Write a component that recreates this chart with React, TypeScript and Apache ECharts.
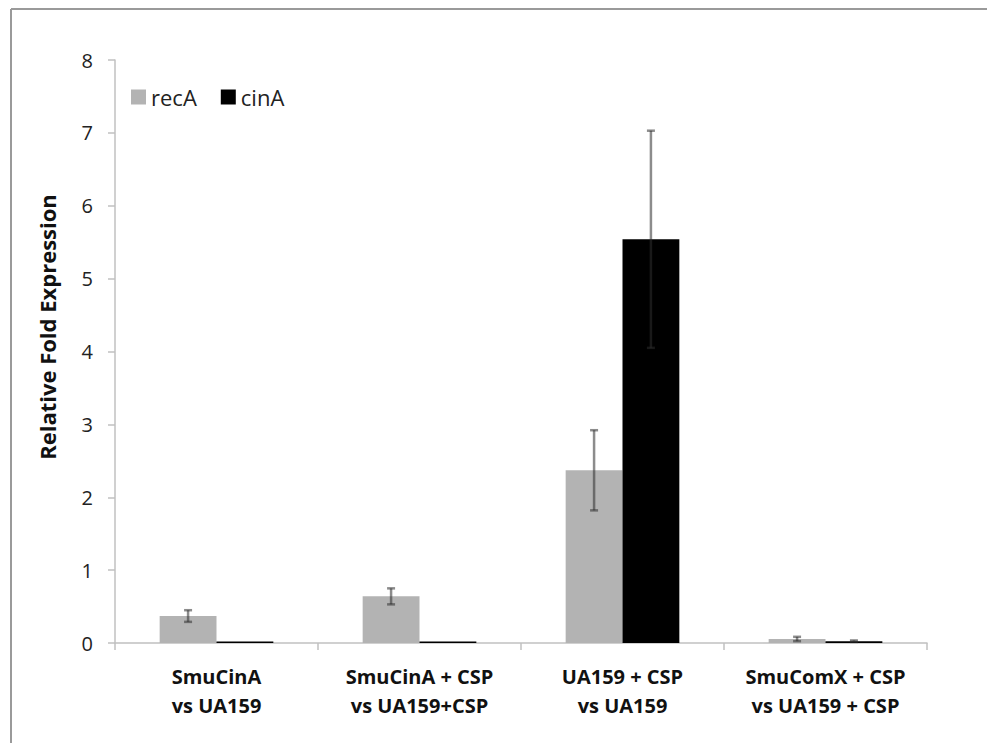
import React, { useEffect, useRef } from "react";
import * as echarts from "echarts";

const categories = [
  "SmuCinA\nvs UA159",
  "SmuCinA + CSP\nvs UA159+CSP",
  "UA159 + CSP\nvs UA159",
  "SmuComX + CSP\nvs UA159 + CSP",
];
const recA = [0.37, 0.64, 2.37, 0.055];
const recAErr = [0.08, 0.11, 0.55, 0.03];
const cinA = [0.02, 0.02, 5.54, 0.025];
const cinAErr = [0, 0, 1.49, 0.01];
const yTicks = [0, 1, 2, 3, 4, 5, 6, 7, 8];

const FONT = "'Open Sans', Lato, sans-serif";

export default function App() {
  const ref = useRef<HTMLDivElement>(null);
  useEffect(() => {
    document.body.style.margin = "0";
    const chart = echarts.init(ref.current!, null, { renderer: "svg" });
    const errData: number[][] = [];
    recA.forEach((v, i) => errData.push([i, v, recAErr[i], -1]));
    cinA.forEach((v, i) => errData.push([i, v, cinAErr[i], 1]));
    chart.setOption({
      animation: false,
      backgroundColor: "#fff",
      textStyle: { fontFamily: FONT },
      grid: { left: 115, right: 60, top: 60, bottom: 100, containLabel: false },
      legend: {
        left: 126,
        top: 81,
        itemWidth: 15,
        itemHeight: 15,
        itemGap: 24,
        icon: "rect",
        textStyle: { fontSize: 22, color: "#222", fontFamily: FONT },
        data: ["recA", "cinA"],
      },
      xAxis: {
        type: "category",
        data: categories,
        axisLine: { lineStyle: { color: "#c0c0c0", width: 1.5 } },
        axisTick: { show: true, length: 7, lineStyle: { color: "#c0c0c0", width: 1.5 } },
        axisLabel: {
          interval: 0,
          hideOverlap: false,
          fontSize: 20,
          fontWeight: "bold",
          color: "#111",
          lineHeight: 29,
          margin: 19,
          fontFamily: FONT,
        },
      },
      yAxis: {
        type: "value",
        min: 0,
        max: 8,
        interval: 1,
        splitLine: { show: false },
        axisLine: { show: true, lineStyle: { color: "#c0c0c0", width: 1.5 } },
        axisTick: { show: true, length: 7, lineStyle: { color: "#c0c0c0", width: 1.5 } },
        axisLabel: {
          fontSize: 20,
          color: "#222",
          margin: 22,
          fontFamily: FONT,
          formatter: (v: number) => (yTicks.includes(v) ? String(v) : ""),
        },
      },
      graphic: [
        { type: "line", shape: { x1: 11, y1: 9, x2: 987, y2: 9 }, style: { stroke: "#9a9a9a", lineWidth: 2 } },
        { type: "line", shape: { x1: 11, y1: 9, x2: 11, y2: 743 }, style: { stroke: "#9a9a9a", lineWidth: 2 } },
        {
          type: "text",
          x: 47,
          y: 327,
          rotation: Math.PI / 2,
          style: {
            text: "Relative Fold Expression",
            fontSize: 22,
            fontWeight: "bold",
            fontFamily: FONT,
            fill: "#111",
            textAlign: "center",
            textVerticalAlign: "middle",
          },
        },
      ],
      series: [
        {
          name: "recA",
          type: "bar",
          data: recA,
          barWidth: "28%",
          barGap: "0%",
          itemStyle: { color: "#b3b3b3" },
        },
        {
          name: "cinA",
          type: "bar",
          data: cinA,
          barWidth: "28%",
          barGap: "0%",
          itemStyle: { color: "#000000" },
        },
        {
          type: "custom",
          data: errData,
          z: 10,
          renderItem: (params: any, api: any) => {
            const idx = api.value(0);
            const v = api.value(1);
            const e = api.value(2);
            const side = api.value(3);
            if (!e) return null;
            const band = api.size([1, 0])[0];
            const c = api.coord([idx, v]);
            const x = c[0] + side * band * 0.14;
            const yTop = api.coord([idx, v + e])[1];
            const yBot = api.coord([idx, Math.max(0, v - e)])[1];
            const st = { stroke: "rgba(45,45,45,0.55)", lineWidth: 2.5 };
            return {
              type: "group",
              children: [
                { type: "line", shape: { x1: x, y1: yTop, x2: x, y2: yBot }, style: st },
                { type: "line", shape: { x1: x - 4, y1: yTop, x2: x + 4, y2: yTop }, style: st },
                { type: "line", shape: { x1: x - 4, y1: yBot, x2: x + 4, y2: yBot }, style: st },
              ],
            };
          },
        },
      ],
    });
    return () => chart.dispose();
  }, []);
  return <div ref={ref} style={{ width: 987, height: 743 }} />;
}
